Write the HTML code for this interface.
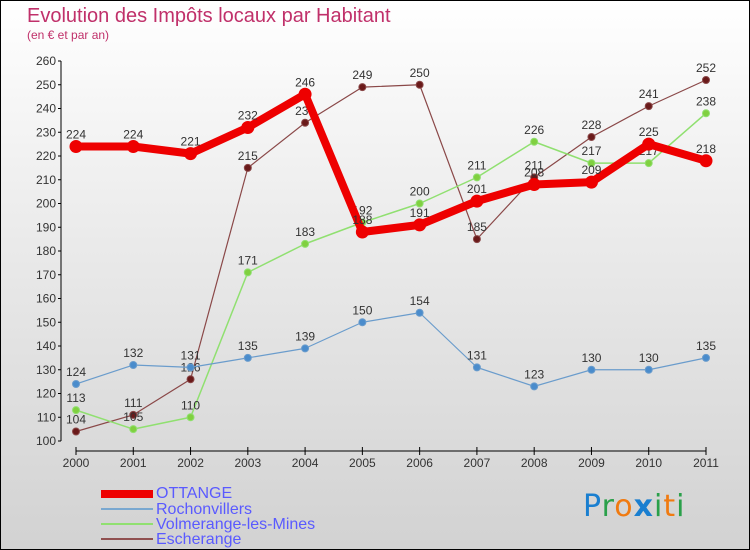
<!DOCTYPE html>
<html><head><meta charset="utf-8"><style>
body{margin:0}
#c{width:750px;height:550px;position:relative;box-sizing:border-box;border:1px solid #000;background:linear-gradient(#fff 0%,#ececec 40%,#d2d2d2 100%);font-family:"Liberation Sans",sans-serif;overflow:hidden}
.t{position:absolute;color:#c0306a}
.lg{position:absolute;left:155px;color:#5a5aff;font-size:16px;line-height:15px}
.sw{position:absolute;left:100px;width:52px}
</style></head><body>
<div id="c">
<div class="t" style="left:26px;top:4px;font-size:20px">Evolution des Impôts locaux par Habitant</div>
<div class="t" style="left:26px;top:27px;font-size:12px">(en € et par an)</div>
<svg id="s" width="750" height="550" style="position:absolute;left:0;top:0"></svg>
<div class="sw" style="top:489px;height:8px;background:#e00"></div>
<div class="lg" style="top:485px">OTTANGE</div>
<div class="sw" style="top:507px;height:2px;background:#7aa8d0"></div>
<div class="lg" style="top:501px">Rochonvillers</div>
<div class="sw" style="top:522px;height:2px;background:#90e070"></div>
<div class="lg" style="top:516px">Volmerange-les-Mines</div>
<div class="sw" style="top:537px;height:2px;background:#905050"></div>
<div class="lg" style="top:531px">Escherange</div>
<div style="position:absolute;left:582px;top:488px;font-size:30px;font-family:'DejaVu Sans',sans-serif;letter-spacing:1px"><span style="color:#1a7fd0">P</span><span style="color:#2aa04a">r</span><span style="color:#f07a10">o</span><span style="color:#1a7fd0;font-weight:bold">x</span><span style="color:#2aa04a">i</span><span style="color:#f07a10">t</span><span style="color:#2aa04a">i</span></div>
</div>
<script>
const years=["2000","2001","2002","2003","2004","2005","2006","2007","2008","2009","2010","2011"];
const yTicks=[100,110,120,130,140,150,160,170,180,190,200,210,220,230,240,250,260];
const ottange=[224,224,221,232,246,188,191,201,208,209,225,218];
const rochonvillers=[124,132,131,135,139,150,154,131,123,130,130,135];
const volmerange=[113,105,110,171,183,192,200,211,226,217,217,238];
const escherange=[104,111,126,215,234,249,250,185,211,228,241,252];
const X0=75,X1=705,Y0=440,Y1=60,VMIN=100,VMAX=260;
const xs=i=>X0+(X1-X0)*i/(years.length-1);
const ys=v=>Y0-(v-VMIN)*(Y0-Y1)/(VMAX-VMIN);
const svg=document.getElementById('s');const NS='http://www.w3.org/2000/svg';
function mk(t,a){const e=document.createElementNS(NS,t);for(const k in a)e.setAttribute(k,a[k]);svg.appendChild(e);return e;}
let ax=mk('line',{x1:60,y1:ys(VMAX),x2:60,y2:ys(VMIN),stroke:'#000','stroke-width':1});

let bx=mk('line',{x1:X0,y1:450,x2:X1,y2:450,stroke:'#000','stroke-width':1});

yTicks.forEach(v=>{let y=ys(v);mk('line',{x1:57,y1:y,x2:60,y2:y,stroke:'#000'});
let t=mk('text',{x:55,y:y+4,'text-anchor':'end','font-size':12,fill:'#333'});t.textContent=v;
});
years.forEach((yr,i)=>{let x=xs(i);mk('line',{x1:x,y1:446,x2:x,y2:454,stroke:'#000'});
let t=mk('text',{x:x,y:466,'text-anchor':'middle','font-size':12,fill:'#333'});t.textContent=yr;
});
function series(d,col,w,r,dot,name){
 let p=mk('polyline',{points:d.map((v,i)=>xs(i)+','+ys(v)).join(' '),fill:'none',stroke:col,'stroke-width':w,'stroke-linejoin':'round'});
 
 d.forEach((v,i)=>{let c=mk('circle',{cx:xs(i),cy:ys(v),r:r,fill:dot,stroke:col,'stroke-width':1});
 
 let t=mk('text',{x:xs(i),y:ys(v)-8,'text-anchor':'middle','font-size':12,fill:'#333'});t.textContent=v;
 });
}
series(escherange,'#8a4848',1.2,3.5,'#6a1a1a','escherange');
series(volmerange,'#90e070',1.5,3.5,'#80d040','volmerange');
series(rochonvillers,'#6a9ccc',1.2,3.5,'#4a8ccc','rochonvillers');
series(ottange,'#ee0000',8,6,'#ee0000','ottange');
</script>
</body></html>
